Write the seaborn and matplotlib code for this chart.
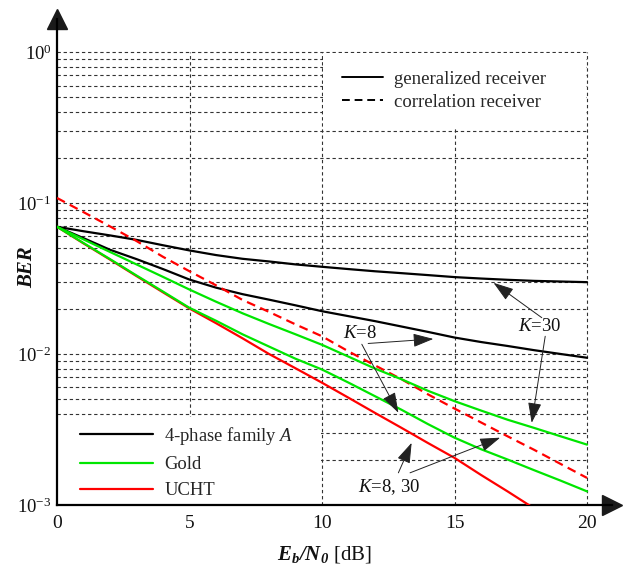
import matplotlib.pyplot as plt
import seaborn as sns
from matplotlib.lines import Line2D
from matplotlib.patches import Rectangle
from matplotlib.ticker import NullFormatter

sns.set_theme(style="white")
plt.rcParams["font.family"] = ["Liberation Serif", "DejaVu Serif"]
plt.rcParams["mathtext.fontset"] = "custom"
plt.rcParams["mathtext.rm"] = "Liberation Serif"
plt.rcParams["mathtext.it"] = "Liberation Serif:italic"
plt.rcParams["mathtext.bf"] = "Liberation Serif:bold:italic"
plt.rcParams["lines.dashed_pattern"] = [4.0, 2.5]

# Eb/N0 [dB]
snr = list(range(0, 21))

# 4-phase family A, generalized receiver
ber_fam_a_k30 = [0.0696, 0.0650, 0.0610, 0.0570, 0.0525, 0.0485, 0.0452, 0.0427, 0.0410, 0.0392, 0.0378,
                 0.0365, 0.0353, 0.0343, 0.0333, 0.0323, 0.0316, 0.0310, 0.0305, 0.0302, 0.0299]
ber_fam_a_k8 = [0.0696, 0.0585, 0.0490, 0.0425, 0.0365, 0.0311, 0.0275, 0.0249, 0.0229, 0.0210, 0.0192,
                0.0178, 0.0165, 0.0152, 0.0140, 0.01285, 0.0120, 0.0113, 0.0106, 0.0100, 0.00944]
# Gold, generalized receiver
ber_gold_k30 = [0.0696, 0.0574, 0.0474, 0.0392, 0.0324, 0.0267, 0.0222, 0.0186, 0.0158, 0.0135, 0.0115,
                0.0096, 0.0080, 0.0068, 0.0057, 0.00487, 0.00422, 0.00367, 0.00324, 0.00285, 0.00251]
ber_gold_k8 = [0.0696, 0.0543, 0.0425, 0.0331, 0.0259, 0.0202, 0.0166, 0.0135, 0.0112, 0.0093, 0.00789,
               0.00646, 0.00525, 0.00427, 0.00343, 0.00279, 0.00234, 0.00200, 0.00170, 0.00145, 0.00123]
# UCHT (K=8, 30)
ber_ucht_gen = [0.0696, 0.0540, 0.0422, 0.0328, 0.0256, 0.0200, 0.0160, 0.0127, 0.0100, 0.00804, 0.00645,
                0.00513, 0.00407, 0.00324, 0.00257, 0.00205, 0.00158, 0.00123, 0.00095, 0.00074, 0.00058]
ber_ucht_corr = [0.108, 0.087, 0.070, 0.056, 0.044, 0.0353, 0.0285, 0.0228, 0.0190, 0.0157, 0.0131,
                 0.0104, 0.0084, 0.0068, 0.0054, 0.00435, 0.00352, 0.00285, 0.00232, 0.00187, 0.00151]

fig = plt.figure(figsize=(6.25, 5.76), dpi=100)
ax = fig.add_axes([0.0912, 0.1233, 0.888, 0.8437])
ax.set_yscale("log")
ax.set_xlim(0, 20.94)
ax.set_ylim(1e-3, 1.654)

# dashed grid, only inside [0, 20] x [1e-3, 1]
grid_y = [m * 10.0 ** e for e in (-3, -2, -1) for m in range(1, 10)] + [1.0]
ax.hlines(grid_y, 0, 20, colors="#333333", lw=0.8, linestyles=(0, (3, 2.5)), zorder=0.5)
ax.vlines([5, 10, 15, 20], 1e-3, 1.0, colors="#333333", lw=0.8, linestyles=(0, (3, 2.5)), zorder=0.5)

# legend backgrounds hide the grid
ax.add_patch(Rectangle((0.05, 1.02e-3), 9.9, 3.85e-3 - 1.02e-3, facecolor="white", edgecolor="none", zorder=1))
ax.add_patch(Rectangle((10.05, 0.32), 9.9, 0.985 - 0.32, facecolor="white", edgecolor="none", zorder=1))

lw = 1.6
sns.lineplot(x=snr, y=ber_fam_a_k30, color="black", lw=lw, ax=ax, zorder=3)
sns.lineplot(x=snr, y=ber_fam_a_k8, color="black", lw=lw, ax=ax, zorder=3)
sns.lineplot(x=snr, y=ber_ucht_corr, color="#ff0000", lw=lw, ls="--", ax=ax, zorder=3)
sns.lineplot(x=snr, y=ber_ucht_gen, color="#ff0000", lw=lw, ax=ax, zorder=3)
sns.lineplot(x=snr, y=ber_gold_k30, color="#00e600", lw=lw, ax=ax, zorder=3)
sns.lineplot(x=snr, y=ber_gold_k8, color="#00e600", lw=lw, ax=ax, zorder=3)

# axes with arrow heads
sns.despine(ax=ax)
for side in ("left", "bottom"):
    ax.spines[side].set_color("black")
    ax.spines[side].set_linewidth(1.6)
ax.plot(1, 0, ">k", ms=14, transform=ax.transAxes, clip_on=False)
ax.plot(0, 1, "^k", ms=14, transform=ax.transAxes, clip_on=False)

ax.set_xticks([0, 5, 10, 15, 20])
ax.yaxis.set_minor_formatter(NullFormatter())
ax.tick_params(axis="both", which="both", length=0)
ax.tick_params(axis="x", labelsize=14, pad=7, colors="#111111")
ax.tick_params(axis="y", labelsize=13.5, pad=4, colors="#111111")

ax.set_xlabel(r"$\mathbf{E_b/N_0}$ [dB]", fontsize=15, color="#111111")
ax.xaxis.set_label_coords(0.481, -0.08)
ax.set_ylabel("BER", fontsize=15, fontweight="bold", fontstyle="italic", color="#111111")
ax.yaxis.set_label_coords(-0.036, 0.49)

# legends
rx_handles = [Line2D([], [], color="black", lw=1.4),
              Line2D([], [], color="black", lw=1.4, ls="--")]
leg1 = ax.legend(rx_handles, ["generalized receiver", "correlation receiver"],
                 loc="upper left", bbox_to_anchor=(0.5135, 0.894), frameon=False,
                 fontsize=13.5, handlelength=2.2, handletextpad=0.59, labelspacing=0.32,
                 borderpad=0, borderaxespad=0)
ax.add_artist(leg1)
seq_handles = [Line2D([], [], color="black", lw=1.6),
               Line2D([], [], color="#00e600", lw=1.6),
               Line2D([], [], color="#ff0000", lw=1.6)]
ax.legend(seq_handles, ["4-phase family $A$", "Gold", "UCHT"],
          loc="upper left", bbox_to_anchor=(0.0414, 0.1646), frameon=False,
          fontsize=13.4, handlelength=3.93, handletextpad=0.59, labelspacing=0.49,
          borderpad=0, borderaxespad=0)

# K annotations
arrow = dict(arrowstyle="-|>,head_length=0.9,head_width=0.3", color="#222222", lw=0.7,
             mutation_scale=14, shrinkA=0, shrinkB=0)
ax.text(18.2, 0.0152, "$K$=30", fontsize=13.5, ha="center", va="center", color="#111111", zorder=4)
ax.annotate("", xy=(16.47, 0.0296), xytext=(18.29, 0.0174), arrowprops=arrow, zorder=4)
ax.annotate("", xy=(17.91, 0.0035), xytext=(18.42, 0.0131), arrowprops=arrow, zorder=4)

ax.text(11.43, 0.01367, "$K$=8", fontsize=13.5, ha="center", va="center", color="#111111", zorder=4)
ax.annotate("", xy=(14.2, 0.01258), xytext=(11.74, 0.01174), arrowprops=arrow, zorder=4)
ax.annotate("", xy=(12.88, 0.00408), xytext=(11.5, 0.0116), arrowprops=arrow, zorder=4)

ax.text(12.53, 0.001315, "$K$=8, 30", fontsize=13.5, ha="center", va="center", color="#111111", zorder=4)
ax.annotate("", xy=(13.38, 0.00258), xytext=(12.88, 0.001633), arrowprops=arrow, zorder=4)
ax.annotate("", xy=(16.72, 0.00279), xytext=(13.32, 0.001633), arrowprops=arrow, zorder=4)

fig.savefig("out.png", dpi=100)
